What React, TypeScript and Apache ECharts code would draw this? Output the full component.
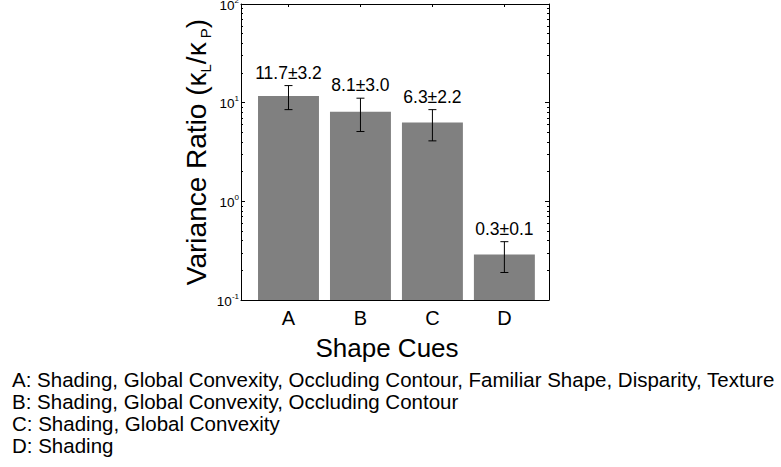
import React, { useEffect, useRef } from "react";
import * as echarts from "echarts";

const categories = ["A", "B", "C", "D"];
const positions = [1, 2, 3, 4];
const ratios = [11.7, 8.1, 6.3, 0.29];
const errors = [3.2, 3.0, 2.2, 0.1];
const majorTicks = [0.1, 1, 10, 100];
const minorTicks = [
  0.2, 0.3, 0.4, 0.5, 0.6, 0.7, 0.8, 0.9,
  2, 3, 4, 5, 6, 7, 8, 9,
  20, 30, 40, 50, 60, 70, 80, 90,
];
const cueLines = [
  "A: Shading, Global Convexity, Occluding Contour, Familiar Shape, Disparity, Texture",
  "B: Shading, Global Convexity, Occluding Contour",
  "C: Shading, Global Convexity",
  "D: Shading",
];

const FONT = "'Liberation Sans', Arial, Helvetica, sans-serif";
const BAR_FRACTION = 0.847;

export default function App() {
  const ref = useRef<HTMLDivElement>(null);
  useEffect(() => {
    if (!ref.current) return;
    const chart = echarts.init(ref.current, null, { renderer: "svg" });
    const seriesData = positions.map((p, i) => [p, ratios[i], errors[i]]);
    const yBase = {
      type: "log",
      logBase: 10,
      min: 0.1,
      max: 100,
      splitLine: { show: false },
    };
    chart.setOption({
      animation: false,
      backgroundColor: "#ffffff",
      textStyle: { fontFamily: FONT },
      grid: {
        left: 241,
        top: 4,
        right: 232,
        bottom: 167,
        containLabel: false,
        outerBoundsMode: "none",
      },
      xAxis: [
        {
          type: "value",
          position: "bottom",
          min: 0.34,
          max: 4.62,
          splitLine: { show: false },
          axisLine: { show: true, lineStyle: { color: "#000", width: 1 } },
          axisTick: {
            show: true,
            inside: true,
            length: 3,
            customValues: positions,
            lineStyle: { color: "#000" },
          },
          axisLabel: {
            show: true,
            customValues: positions,
            formatter: (v: number) => categories[Math.round(v) - 1] ?? "",
            fontSize: 20,
            color: "#000",
            margin: 8,
            fontFamily: FONT,
          },
          name: "Shape Cues",
          nameLocation: "middle",
          nameGap: 35,
          nameTextStyle: { fontSize: 26, color: "#000", fontFamily: FONT, padding: [0, 16, 0, 0] },
        },
        {
          type: "value",
          position: "top",
          min: 0.34,
          max: 4.62,
          splitLine: { show: false },
          axisLine: { show: true, lineStyle: { color: "#000", width: 1 } },
          axisTick: {
            show: true,
            inside: true,
            length: 3,
            customValues: positions,
            lineStyle: { color: "#000" },
          },
          axisLabel: { show: false },
        },
      ],
      yAxis: [
        {
          ...yBase,
          position: "left",
          axisLine: { show: true, lineStyle: { color: "#000", width: 1 } },
          axisTick: {
            show: true,
            inside: true,
            length: 4,
            customValues: majorTicks,
            lineStyle: { color: "#000" },
          },
          axisLabel: {
            show: true,
            customValues: majorTicks,
            margin: 2,
            formatter: (v: number) => `{b|10}{s|${Math.round(Math.log10(v))}}`,
            rich: {
              b: { fontSize: 13.5, lineHeight: 16, verticalAlign: "bottom", color: "#000", fontFamily: FONT },
              s: { fontSize: 8, lineHeight: 8, verticalAlign: "top", color: "#000", fontFamily: FONT },
            },
          },
          name: "Variance Ratio (κ{s|L}/κ{s| P})",
          nameLocation: "middle",
          nameRotate: 90,
          nameGap: 24,
          nameTextStyle: {
            fontSize: 28,
            color: "#000",
            fontFamily: FONT,
            rich: {
              s: { fontSize: 15, color: "#000", fontFamily: FONT, verticalAlign: "bottom", lineHeight: 32 },
            },
          },
        },
        {
          ...yBase,
          position: "left",
          axisLine: { show: false },
          axisTick: {
            show: true,
            inside: true,
            length: 2,
            customValues: minorTicks,
            lineStyle: { color: "#000" },
          },
          axisLabel: { show: false },
        },
        {
          ...yBase,
          position: "right",
          axisLine: { show: true, lineStyle: { color: "#000", width: 1 } },
          axisTick: {
            show: true,
            inside: true,
            length: 4,
            customValues: majorTicks,
            lineStyle: { color: "#000" },
          },
          axisLabel: { show: false },
        },
        {
          ...yBase,
          position: "right",
          axisLine: { show: false },
          axisTick: {
            show: true,
            inside: true,
            length: 2,
            customValues: minorTicks,
            lineStyle: { color: "#000" },
          },
          axisLabel: { show: false },
        },
      ],
      series: [
        {
          type: "custom",
          xAxisIndex: 0,
          yAxisIndex: 0,
          z: 1,
          data: seriesData,
          renderItem: (params: any, api: any) => {
            const x = api.value(0);
            const v = api.value(1);
            const half = BAR_FRACTION / 2;
            const tl = api.coord([x - half, v]);
            const br = api.coord([x + half, 0.1]);
            return {
              type: "rect",
              shape: { x: tl[0], y: tl[1], width: br[0] - tl[0], height: br[1] - tl[1] },
              style: { fill: "#808080" },
            };
          },
        },
        {
          type: "custom",
          xAxisIndex: 0,
          yAxisIndex: 0,
          z: 3,
          data: seriesData,
          renderItem: (params: any, api: any) => {
            const x = api.value(0);
            const v = api.value(1);
            const e = api.value(2);
            const top = api.coord([x, v + e]);
            const bot = api.coord([x, v - e]);
            const cap = 4;
            const ls = { stroke: "#000", lineWidth: 1 };
            return {
              type: "group",
              children: [
                { type: "line", shape: { x1: top[0], y1: top[1], x2: bot[0], y2: bot[1] }, style: ls },
                { type: "line", shape: { x1: top[0] - cap, y1: top[1], x2: top[0] + cap, y2: top[1] }, style: ls },
                { type: "line", shape: { x1: bot[0] - cap, y1: bot[1], x2: bot[0] + cap, y2: bot[1] }, style: ls },
                {
                  type: "text",
                  x: top[0],
                  y: top[1] - 13,
                  style: {
                    text: `${v.toFixed(1)}±${e.toFixed(1)}`,
                    align: "center",
                    verticalAlign: "middle",
                    fontSize: 17.5,
                    fill: "#000",
                    fontFamily: FONT,
                  },
                },
              ],
            };
          },
        },
      ],
      graphic: cueLines.map((t, i) => ({
        type: "text",
        x: 12,
        y: 379 + i * 22,
        style: {
          text: t,
          fontSize: 20.5,
          fill: "#000",
          fontFamily: FONT,
          align: "left",
          verticalAlign: "middle",
        },
      })),
    });
    return () => chart.dispose();
  }, []);
  return (
    <div
      ref={ref}
      style={{ position: "fixed", left: 0, top: 0, width: 781, height: 467, background: "#fff" }}
    />
  );
}
